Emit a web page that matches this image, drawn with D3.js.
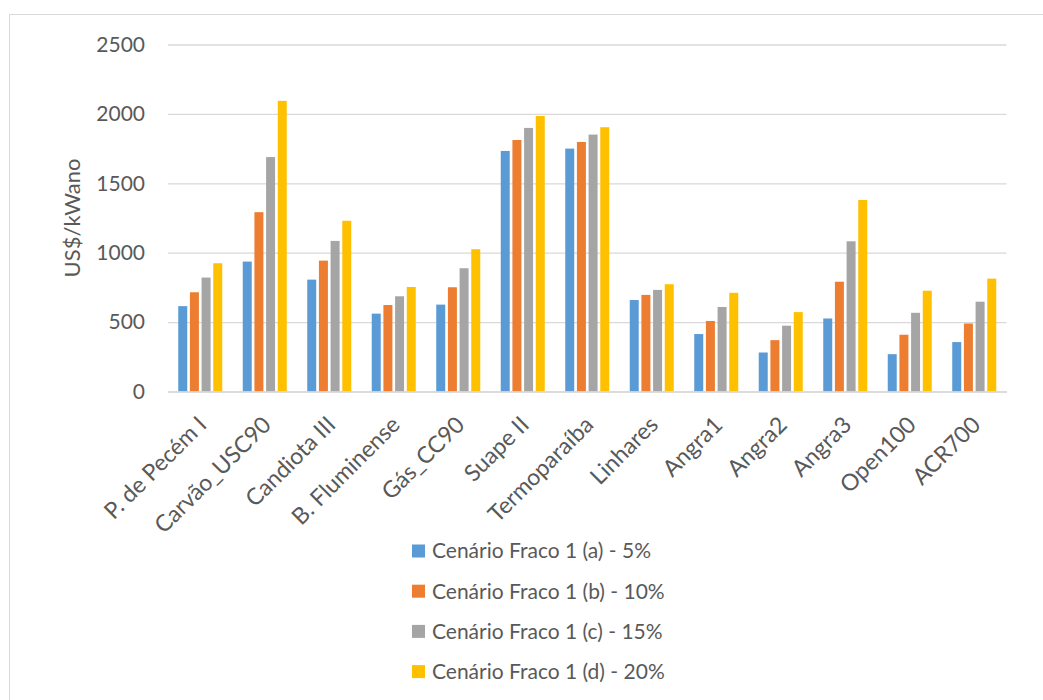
<!DOCTYPE html>
<html>
<head>
<meta charset="utf-8">
<script src="https://cdn.jsdelivr.net/npm/d3@7"></script>
<style>
  html, body { margin: 0; padding: 0; background: #fff; }
  svg { display: block; }
  text { font-family: Lato, "Open Sans", sans-serif; fill: #595959; }
</style>
</head>
<body>
<svg id="chart" width="1043" height="700"></svg>
<script>
const categories = ["P. de Pecém I", "Carvão_USC90", "Candiota III", "B. Fluminense", "Gás_CC90", "Suape II", "Termoparaíba", "Linhares", "Angra1", "Angra2", "Angra3", "Open100", "ACR700"];
const seriesNames = ["Cenário Fraco 1 (a) - 5%", "Cenário Fraco 1 (b) - 10%", "Cenário Fraco 1 (c) - 15%", "Cenário Fraco 1 (d) - 20%"];
const serieA = [615, 936, 806, 561, 626, 1733, 1750, 659, 414, 281, 526, 269, 356];
const serieB = [715, 1292, 943, 623, 751, 1812, 1798, 696, 508, 370, 791, 409, 490];
const serieC = [821, 1689, 1085, 686, 888, 1899, 1851, 732, 609, 474, 1082, 567, 647];
const serieD = [924, 2094, 1230, 753, 1025, 1985, 1904, 773, 711, 572, 1380, 726, 813];
const yTicks = [0, 500, 1000, 1500, 2000, 2500];
const colors = ["#5B9BD5", "#ED7D31", "#A5A5A5", "#FFC000"];
const yTitle = "US$/kWano";

const allSeries = [serieA, serieB, serieC, serieD];
const svg = d3.select("#chart");

// chart area border (top and left visible)
svg.append("rect")
  .attr("x", 9.5).attr("y", 14.5)
  .attr("width", 1200).attr("height", 900)
  .attr("fill", "none").attr("stroke", "#d9d9d9").attr("stroke-width", 1);

const plot = { left: 168, right: 1006.5, top: 44.5, bottom: 391.5 };

const x0 = d3.scaleBand()
  .domain(categories)
  .range([plot.left, plot.right])
  .paddingInner(0.276)
  .paddingOuter(0.138);

const x1 = d3.scaleBand()
  .domain(d3.range(allSeries.length))
  .range([0, x0.bandwidth()])
  .paddingInner(0.23)
  .paddingOuter(0.115);

const y = d3.scaleLinear().domain([0, 2500]).range([plot.bottom, plot.top]);

// gridlines + y labels
const yAxis = d3.axisLeft(y)
  .tickValues(yTicks)
  .tickSize(-(plot.right - plot.left))
  .tickPadding(23)
  .tickFormat(d3.format("d"));

const gy = svg.append("g")
  .attr("transform", `translate(${plot.left},0)`)
  .call(yAxis);
gy.select(".domain").remove();
gy.selectAll(".tick line").attr("stroke", "#d9d9d9").attr("stroke-width", 1.3);
gy.selectAll(".tick text")
  .attr("font-size", 21)
  .style("font-family", "Lato, sans-serif")
  .attr("fill", "#595959");

// bars
const groups = svg.append("g").selectAll("g")
  .data(categories)
  .join("g")
  .attr("transform", d => `translate(${x0(d)},0)`);

groups.selectAll("rect")
  .data((d, i) => allSeries.map((s, k) => ({ k, v: s[i] })))
  .join("rect")
  .attr("x", d => x1(d.k))
  .attr("width", x1.bandwidth())
  .attr("y", d => y(d.v))
  .attr("height", d => y(0) - y(d.v))
  .attr("fill", d => colors[d.k]);

// x axis line
const xAxis = d3.axisBottom(x0).tickSize(0).tickPadding(0);
const gx = svg.append("g")
  .attr("transform", `translate(0,${plot.bottom})`)
  .call(xAxis);
gx.select(".domain").attr("stroke", "#d9d9d9").attr("stroke-width", 1.3);
gx.selectAll(".tick text")
  .attr("font-size", 23)
  .style("font-family", "Lato, sans-serif")
  .attr("fill", "#595959")
  .attr("text-anchor", "end")
  .attr("y", 0)
  .attr("dy", "0.35em")
  .attr("transform", "translate(2,29) rotate(-45)");

// y title
svg.append("text")
  .attr("transform", `translate(80,${(plot.top + plot.bottom) / 2}) rotate(-90)`)
  .attr("text-anchor", "middle")
  .attr("font-size", 22)
  .text(yTitle);

// legend
const legend = svg.append("g");
const legendRows = legend.selectAll("g")
  .data(seriesNames)
  .join("g")
  .attr("transform", (d, i) => `translate(412,${551 + i * 40.2})`);
legendRows.append("rect")
  .attr("x", 0).attr("y", -6.5)
  .attr("width", 13).attr("height", 13)
  .attr("fill", (d, i) => colors[i]);
legendRows.append("text")
  .attr("x", 20).attr("dy", "0.35em")
  .attr("font-size", 21)
  .text(d => d);
</script>
</body>
</html>
